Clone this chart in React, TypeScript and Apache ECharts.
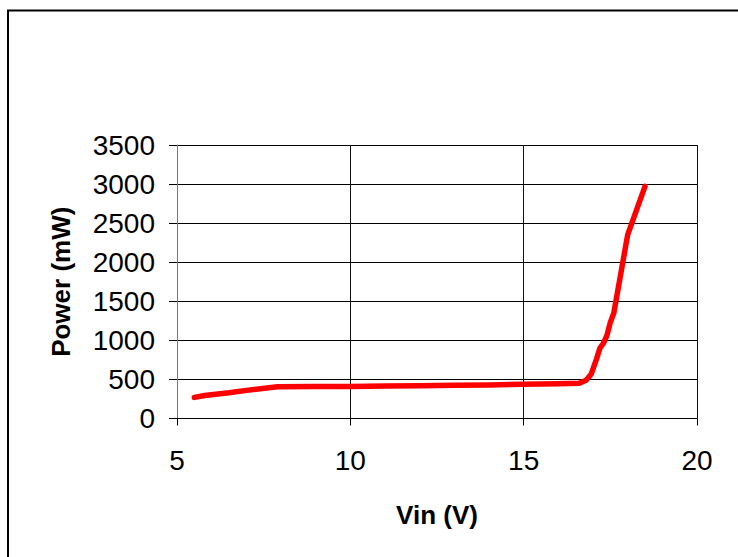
import React, { useEffect, useRef } from "react";
import * as echarts from "echarts";

const vin: number[] = [5.5, 5.8, 6.5, 7.0, 7.9, 9, 10, 11, 12, 13, 14, 15, 16, 16.6, 16.8, 16.95, 17.1, 17.2, 17.3, 17.4, 17.5, 17.6, 17.8, 18.0, 18.2, 18.5];
const power: number[] = [270, 295, 330, 360, 405, 408, 410, 415, 420, 425, 430, 438, 444, 450, 490, 570, 760, 900, 960, 1060, 1230, 1350, 1850, 2350, 2600, 2970];

const xTicks = { min: 5, max: 20, interval: 5 };
const yTicks = { min: 0, max: 3500, interval: 500 };

export default function App() {
  const ref = useRef<HTMLDivElement>(null);
  useEffect(() => {
    if (!ref.current) return;
    const chart = echarts.init(ref.current, undefined, { renderer: "svg" });
    const data = vin.map((v, i) => [v, power[i]]);
    chart.setOption({
      animation: false,
      backgroundColor: "#ffffff",
      grid: { left: 177, right: 41, top: 145, bottom: 138.5, containLabel: false },
      graphic: [
        {
          type: "rect",
          shape: { x: 8, y: 10.5, width: 800, height: 600 },
          style: { fill: "none", stroke: "#000", lineWidth: 2 },
          silent: true,
        },
      ],
      xAxis: {
        type: "value",
        min: xTicks.min,
        max: xTicks.max,
        interval: xTicks.interval,
        name: "Vin (V)",
        nameLocation: "middle",
        nameGap: 83,
        nameTextStyle: { fontFamily: "Liberation Sans", fontWeight: "bold", fontSize: 26, color: "#000" },
        axisLine: { onZero: false, lineStyle: { color: "#000", width: 1 } },
        axisTick: { show: true, inside: false, length: 7, lineStyle: { color: "#000" } },
        axisLabel: { fontFamily: "Liberation Sans", fontSize: 28, color: "#000", margin: 28, formatter: (v: number) => String(v) },
        splitLine: { show: true, lineStyle: { color: "#111", width: 1 } },
      },
      yAxis: {
        type: "value",
        min: yTicks.min,
        max: yTicks.max,
        interval: yTicks.interval,
        name: "Power (mW)",
        nameLocation: "middle",
        nameGap: 103,
        nameTextStyle: { fontFamily: "Liberation Sans", fontWeight: "bold", fontSize: 26, color: "#000" },
        axisLine: { show: true, lineStyle: { color: "#777", width: 1 } },
        axisTick: { show: true, inside: false, length: 8, lineStyle: { color: "#000" } },
        axisLabel: { fontFamily: "Liberation Sans", fontSize: 28, color: "#000", margin: 22, padding: [6, 0, 0, 0], formatter: (v: number) => String(v) },
        splitLine: { show: true, lineStyle: { color: "#000", width: 1 } },
      },
      series: [
        {
          type: "line",
          data,
          showSymbol: false,
          symbol: "none",
          smooth: false,
          lineStyle: { color: "#ff0000", width: 5.5, cap: "round", join: "round" },
          itemStyle: { color: "#ff0000" },
        },
      ],
    });
    return () => chart.dispose();
  }, []);
  return (
    <div
      ref={ref}
      style={{ position: "fixed", left: 0, top: 0, width: 738, height: 557, background: "#fff" }}
    />
  );
}
